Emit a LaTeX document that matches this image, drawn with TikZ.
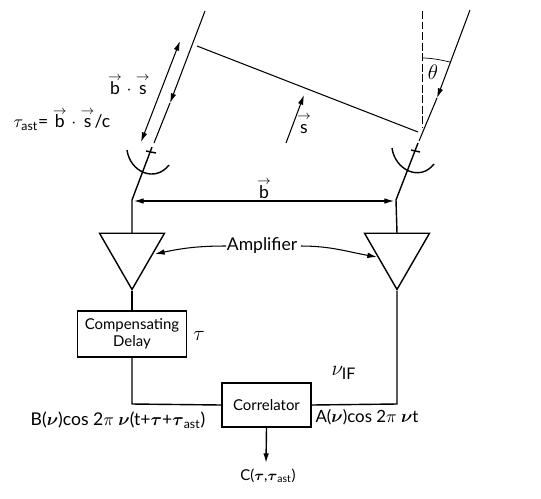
\documentclass[tikz,border=0pt]{standalone}
\usepackage{amsmath,amssymb}
\usepackage{fontspec}
\setmainfont{Lato}
\usetikzlibrary{calc,positioning,shapes.geometric,arrows.meta}
\newcommand{\arrowed}[1]{\leavevmode\vbox{\offinterlineskip\halign{\hfil##\hfil\cr$\scriptstyle\rightarrow$\cr\noalign{\vskip0.4pt}\vphantom{b}#1\cr}}}

\begin{document}
\begin{tikzpicture}[x=0.02cm, y=-0.02cm, >={Latex[length=5.5pt,width=3.2pt]}, thick, font=\fontsize{8.5}{10}\selectfont]
        \tikzset{blk/.style={draw, rectangle, inner sep=0pt, align=center},
                 amp/.style={draw, regular polygon, regular polygon sides=3, shape border rotate=180,
                 minimum size=1.5cm, inner sep=0pt},
                 lbl/.style={inner sep=0pt, font=\fontsize{10}{12}\selectfont},
                 sym/.style={inner sep=0pt, font=\fontsize{13}{15}\selectfont}}
        \path[use as bounding box, fill=white] (0,0) rectangle (541,498);
        %% Bloques de la cadena
        \node[amp] (ampL) at (132,252) {};
        \node[amp] (ampR) at (397,252) {};
        \node[blk, minimum width=2.18cm, minimum height=0.92cm] (delay) at (132,334) {Compensating\\Delay};
        \node[blk, minimum width=1.78cm, minimum height=0.88cm] (corr) at (266.5,405) {Correlator};
        \node[lbl] (amptxt) at (262,246) {Amplifier};
        %% Puntos de las antenas
        \coordinate (topL)  at (205,11);
        \coordinate (midL)  at (170,103);
        \coordinate (endL)  at (154,143);
        \coordinate (dishL) at (152,147);
        \coordinate (feedL) at (132,200);
        \coordinate (topR)  at (470,10);
        \coordinate (midR)  at (437,98);
        \coordinate (endR)  at (419,141);
        \coordinate (dishR) at (418,143);
        \coordinate (feedR) at (396,200);
        \coordinate (ampinL) at (132,233);
        \coordinate (ampinR) at (397,233);
        \coordinate (jointL) at (132,404);
        \coordinate (jointR) at (397,404);
        %% Rayos incidentes
        \draw[semithick, ->] (topL) -- (midL);
        \draw[semithick] (midL) -- (endL);
        \draw[semithick, ->] (topR) -- (midR);
        \draw[semithick] (midR) -- (endR);
        \draw (dishL) -- (feedL) -- (ampinL);
        \draw (dishR) -- (feedR) -- (ampinR);
        %% Reflectores
        \draw (127,150) .. controls (130,172) and (155,183) .. (169,165);
        \draw (392,148) .. controls (395,170) and (420,182) .. (434,164);
        \draw (146,151) -- (156,153);
        \draw (411,150) -- (420,152);
        %% Frente de onda y geometria
        \coordinate (waveL) at (197,46);
        \coordinate (waveR) at (418,132);
        \draw[semithick] (waveL) -- (waveR);
        \coordinate (zenT) at (422,11);
        \coordinate (zenB) at (422,127);
        \draw[thin, dash pattern=on 4.5pt off 1.5pt] (zenT) -- (zenB);
        \draw[thin] (422,58) .. controls (432,58) and (441,60) .. (450,62);
        \node[sym] (theta) at (433,72) {$\theta$};
        \draw[->, semithick] (286,143) -- (304,95);
        \node[lbl] (svec) at (304,124) {\arrowed{s}};
        %% Retardo geometrico
        \coordinate (dbA) at (180,41);
        \coordinate (dbB) at (141,142);
        \draw[<->, semithick] (dbA) -- (dbB);
        \node[lbl] (bsvec) at (129,85) {\arrowed{b} $\cdot$ \arrowed{s}};
        \node[lbl] (tauast) at (62,120) {$\tau_{\mathrm{ast}}$= \arrowed{b} $\cdot$ \arrowed{s}/c};
        %% Linea de base
        \draw[<->, semithick] (feedL) ++(2,1) -- node[lbl, above=1pt]{\arrowed{b}} ($(feedR)+(-2,1)$);
        %% Etiqueta del amplificador
        \coordinate (ptrL) at (155,254);
        \coordinate (ptrR) at (377,257);
        \draw[->, semithick] (amptxt.west) to[out=180, in=12] (ptrL);
        \draw[->, semithick] (amptxt.east) ++(3,0) to[out=0, in=170] (ptrR);
        %% Cadena de senal
        \draw (ampL.corner 1) -- (delay.north);
        \draw (delay.south) -- (jointL) -- (corr.west);
        \draw (ampR.corner 1) -- (jointR) -- (corr.east);
        \coordinate (outC) at (266,463);
        \draw[->] (corr.south) -- (outC);
        %% Rotulos de las senales
        \node[sym] (tau) at (199,336) {$\tau$};
        \node[sym] (nuif) at (344,373) {$\nu_{\mathrm{IF}}$};
        \node[lbl] (sigB) at (118,420) {B($\boldsymbol{\nu}$)cos 2$\pi$ $\boldsymbol{\nu}$(t+$\boldsymbol{\tau}$+$\boldsymbol{\tau}_{\mathrm{ast}}$)};
        \node[lbl, font=\fontsize{9.6}{12}\selectfont] (sigA) at (367,417) {A($\boldsymbol{\nu}$)cos 2$\pi$ $\boldsymbol{\nu}$t};
        \node[inner sep=0pt] (sigC) at (268,476) {C($\boldsymbol{\tau}$,$\boldsymbol{\tau}_{\mathrm{ast}}$)};
    \end{tikzpicture}
\end{document}
